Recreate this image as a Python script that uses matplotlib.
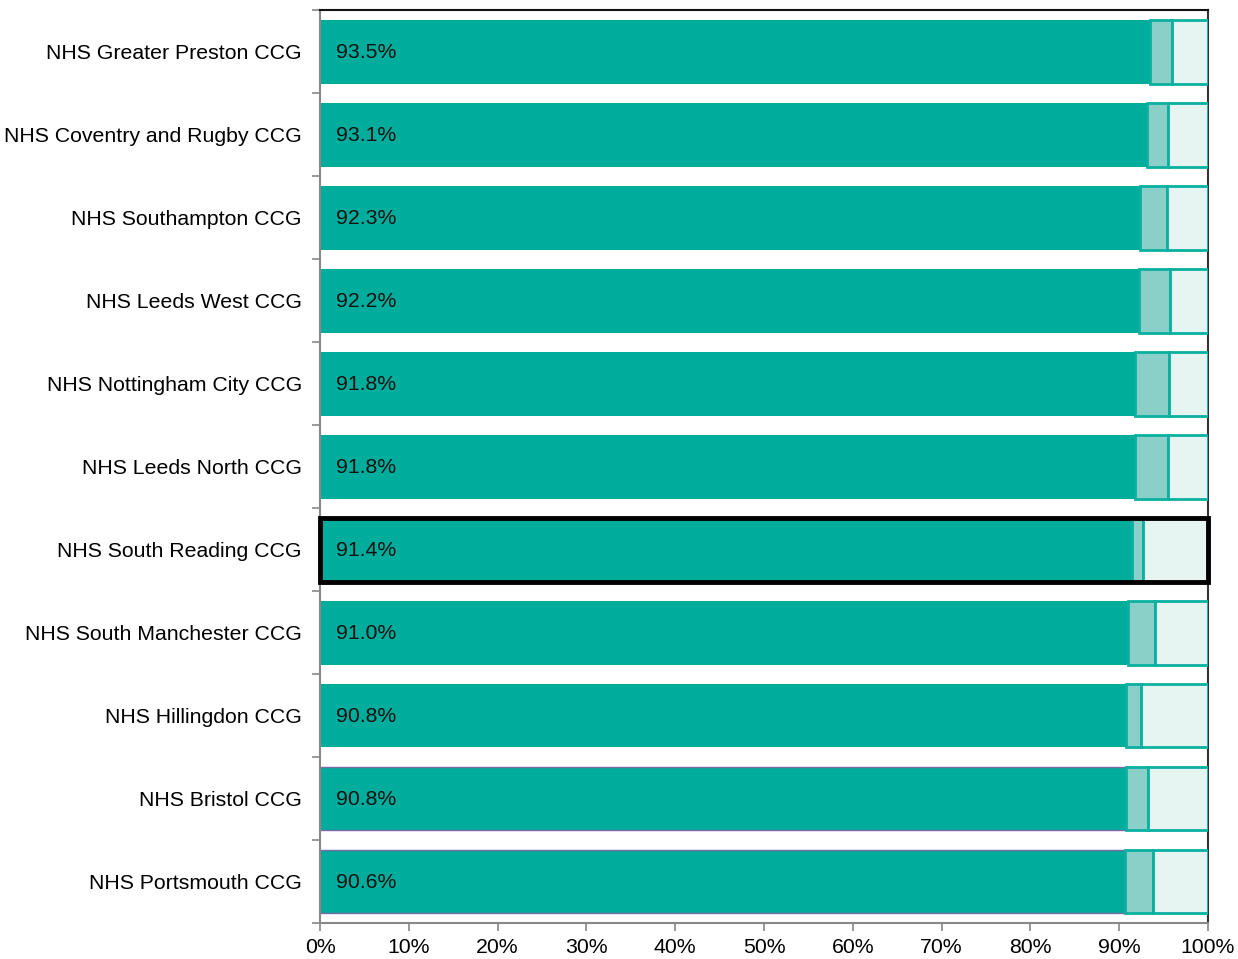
import matplotlib
matplotlib.use("Agg")
import matplotlib.pyplot as plt
from matplotlib.patches import Rectangle
import numpy as np

plt.rcParams['font.family'] = ['Liberation Sans', 'DejaVu Sans']

categories = ["NHS Greater Preston CCG", "NHS Coventry and Rugby CCG", "NHS Southampton CCG",
              "NHS Leeds West CCG", "NHS Nottingham City CCG", "NHS Leeds North CCG",
              "NHS South Reading CCG", "NHS South Manchester CCG", "NHS Hillingdon CCG",
              "NHS Bristol CCG", "NHS Portsmouth CCG"]
main_pct = [93.5, 93.1, 92.3, 92.2, 91.8, 91.8, 91.4, 91.0, 90.8, 90.8, 90.6]
second_pct = [2.4, 2.4, 3.1, 3.5, 3.8, 3.7, 1.3, 3.0, 1.7, 2.4, 3.2]
highlight = "NHS South Reading CCG"

third_pct = [100 - a - b for a, b in zip(main_pct, second_pct)]

dark = "#00AC9B"
mid = "#8BD0C8"
light = "#E6F4F2"
edge = "#0AB0A0"

fig = plt.figure(figsize=(12.38, 9.59), dpi=100)
ax = fig.add_axes([0.2585, 0.0375, 0.7173, 0.952])

n = len(categories)
y = np.arange(n)
h = 0.77
ax.barh(y, main_pct, height=h, color=dark, edgecolor="none", zorder=2)
for i in range(n):
    if i >= n - 2:
        ax.barh(y[i], main_pct[i], height=h, color="none", edgecolor="#7A6AA8", linewidth=1.0, zorder=2.5)
ax.barh(y, second_pct, left=main_pct, height=h, color=mid, edgecolor=edge, linewidth=2, zorder=3)
left3 = [a + b for a, b in zip(main_pct, second_pct)]
ax.barh(y, third_pct, left=left3, height=h, color=light, edgecolor=edge, linewidth=2, zorder=3)

fs = 15.3
for i, v in enumerate(main_pct):
    ax.text(1.8, y[i] + 0.01, f"{v:.1f}%", va="center", ha="left", fontsize=fs, color="#111111", zorder=5)

hi = categories.index(highlight)
ax.add_patch(Rectangle((0, y[hi] - h / 2), 100, h, fill=False, edgecolor="black",
                       linewidth=3.5, zorder=6, clip_on=False))

ax.set_xlim(0, 100)
ax.set_ylim(n - 0.5, -0.5)
ax.set_xticks(np.arange(0, 101, 10))
ax.set_xticklabels([f"{t}%" for t in range(0, 101, 10)], fontsize=fs)
ax.set_yticks(y)
ax.set_yticklabels(categories, fontsize=fs)
ax.set_yticks(np.arange(-0.5, n, 1), minor=True)
ax.tick_params(axis="y", which="major", length=0, pad=13)
ax.tick_params(axis="y", which="minor", length=6, color="#888888", width=1.2)
ax.tick_params(axis="x", length=6, color="#888888", width=1.2, pad=5)

ax.spines["left"].set_color("#888888")
ax.spines["bottom"].set_color("#888888")
ax.spines["left"].set_linewidth(1.5)
ax.spines["bottom"].set_linewidth(1.5)
ax.spines["top"].set_color("#111111")
ax.spines["right"].set_color("#333333")
ax.spines["top"].set_linewidth(1.5)
ax.spines["right"].set_linewidth(1.5)

fig.savefig("out.png", dpi=100)
